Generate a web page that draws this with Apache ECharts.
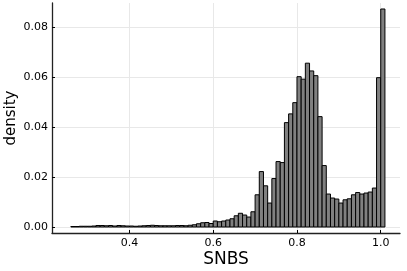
<!DOCTYPE html>
<html>
<head>
<meta charset="utf-8">
<script src="https://cdn.jsdelivr.net/npm/echarts@6/dist/echarts.min.js"></script>
<style>html,body{margin:0;padding:0;background:#fff}#c{width:407px;height:271px}</style>
</head>
<body>
<div id="c"></div>
<script>
// Histogram bins: left edges (width 0.01) and densities
const binStart = 0.26;
const binWidth = 0.01;
const densities = [
  0.0002, 0.0002, 0.0003, 0.0003, 0.0003, 0.0004, 0.0006, 0.0006, 0.0005, 0.0006,
  0.0004, 0.0006, 0.0005, 0.0004, 0.0004, 0.0003, 0.0004, 0.0005, 0.0006, 0.0007,
  0.0006, 0.0005, 0.0005, 0.0005, 0.0005, 0.0006, 0.0006, 0.0005, 0.0007, 0.0009,
  0.0013, 0.0017, 0.0018, 0.0014, 0.0024, 0.0021, 0.0024, 0.0028, 0.0033, 0.0045,
  0.0055, 0.0048, 0.0040, 0.0061, 0.0129, 0.0222, 0.0165, 0.0096, 0.0194, 0.0262,
  0.0258, 0.0418, 0.0453, 0.0498, 0.0602, 0.0592, 0.0656, 0.0625, 0.0606, 0.0442,
  0.0246, 0.0132, 0.0116, 0.0112, 0.0096, 0.0109, 0.0113, 0.0129, 0.0138, 0.0132,
  0.0136, 0.0140, 0.0156, 0.0598, 0.0873
];
const xTicks = [0.4, 0.6, 0.8, 1.0];
const yTicks = [0.00, 0.02, 0.04, 0.06, 0.08];
const xLabel = 'SNBS';
const yLabel = 'density';

const data = densities.map((d, i) => {
  const x0 = +(binStart + i * binWidth).toFixed(4);
  return [x0, +(x0 + binWidth).toFixed(4), d];
});

const chart = echarts.init(document.getElementById('c'), null, {renderer: 'canvas'});
const axisFont = 'DejaVu Sans';
chart.setOption({
  animation: false,
  grid: {left: 52, right: 7, top: 3, bottom: 38, containLabel: false, outerBoundsMode: 'none'},
  xAxis: {
    type: 'value',
    min: 0.215, max: 1.046,
    name: xLabel, nameLocation: 'middle', nameGap: 18, nameMoveOverlap: false,
    nameTextStyle: {fontFamily: axisFont, fontSize: 17, color: '#000'},
    axisLine: {show: true, onZero: false, lineStyle: {color: '#222', width: 1.3}},
    axisTick: {show: true, inside: true, length: 3, customValues: xTicks, lineStyle: {color: '#000'}},
    axisLabel: {customValues: xTicks, margin: 5, fontFamily: axisFont, fontSize: 11, color: '#000',
      formatter: v => v.toFixed(1)},
    splitLine: {show: true, lineStyle: {color: '#e8e8e8', width: 1}}
  },
  yAxis: {
    type: 'value',
    min: -0.0024, max: 0.0897,
    name: yLabel, nameLocation: 'middle', nameGap: 33, nameRotate: 90, nameMoveOverlap: false,
    nameTextStyle: {fontFamily: axisFont, fontSize: 15, color: '#000'},
    axisLine: {show: true, onZero: false, lineStyle: {color: '#222', width: 1.3}},
    axisTick: {show: true, inside: true, length: 3, customValues: yTicks, lineStyle: {color: '#000'}},
    axisLabel: {customValues: yTicks, margin: 4, fontFamily: axisFont, fontSize: 11, color: '#000',
      formatter: v => v.toFixed(2)},
    splitLine: {show: true, lineStyle: {color: '#e8e8e8', width: 1}}
  },
  series: [{
    type: 'custom',
    data: data,
    encode: {x: [0, 1], y: 2},
    renderItem: function (params, api) {
      const p0 = api.coord([api.value(0), 0]);
      const p1 = api.coord([api.value(1), api.value(2)]);
      return {
        type: 'rect',
        shape: {x: p0[0], y: p1[1], width: p1[0] - p0[0], height: p0[1] - p1[1]},
        style: {fill: '#808080', stroke: '#000', lineWidth: 1}
      };
    }
  }]
});
</script>
</body>
</html>
